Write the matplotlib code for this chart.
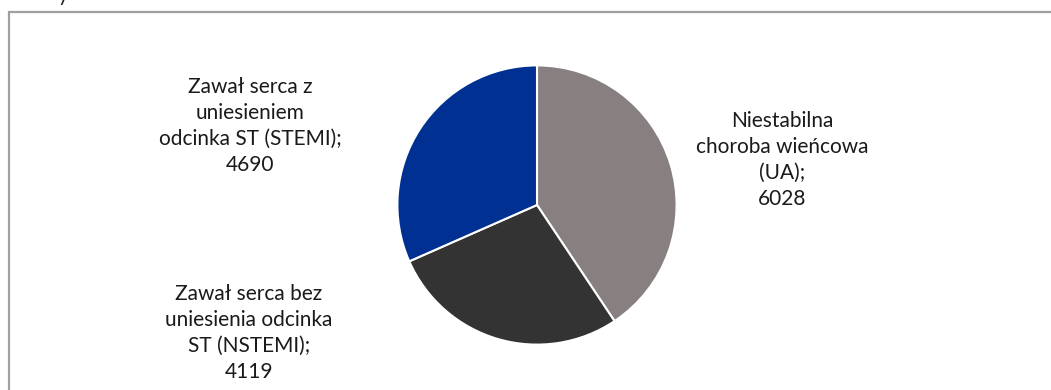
import matplotlib
matplotlib.use("Agg")
import matplotlib.pyplot as plt
from matplotlib.patches import Rectangle

# liczba pacjentów wg rozpoznania
kategorie = ["Niestabilna\nchoroba wieńcowa\n(UA);",
             "Zawał serca bez\nuniesienia odcinka\nST (NSTEMI);",
             "Zawał serca z\nuniesieniem\nodcinka ST (STEMI);"]
wartosci = [6028, 4119, 4690]
kolory = ["#877f80", "#333333", "#003092"]

W, H = 1051, 390
fig = plt.figure(figsize=(W / 100, H / 100), dpi=100)
plt.rcParams['font.family'] = ['Lato', 'DejaVu Sans']

def px(x, y):
    return x / W, 1 - y / H

# ramka wykresu (ucięta z prawej i od dołu)
fig.patches.append(Rectangle(px(9, 440), 1.2, (440 - 12) / H, transform=fig.transFigure,
                             fill=False, edgecolor="#a0a0a0", linewidth=1.6))
fig.text(*px(63, 1), "y", fontsize=15, ha="center", va="baseline", color="#222222")

cx, cy, r = 537, 205, 141
ax = fig.add_axes([(cx - r) / W, (H - cy - r) / H, 2 * r / W, 2 * r / H])
ax.pie(wartosci, colors=kolory, startangle=90, counterclock=False, radius=1,
       wedgeprops=dict(edgecolor="white", linewidth=1.5))
ax.set_xlim(-1.01, 1.01)
ax.set_ylim(-1.01, 1.01)
ax.axis("off")

# etykiety danych: nazwa; wartość
pozycje = [(782, 160), (249, 333), (250, 126)]
for kat, val, (x, y) in zip(kategorie, wartosci, pozycje):
    fig.text(*px(x, y), f"{kat}\n{val}", ha="center", va="center",
             fontsize=15, linespacing=1.36, color="#1a1a1a")

plt.savefig("out.png", dpi=100)
